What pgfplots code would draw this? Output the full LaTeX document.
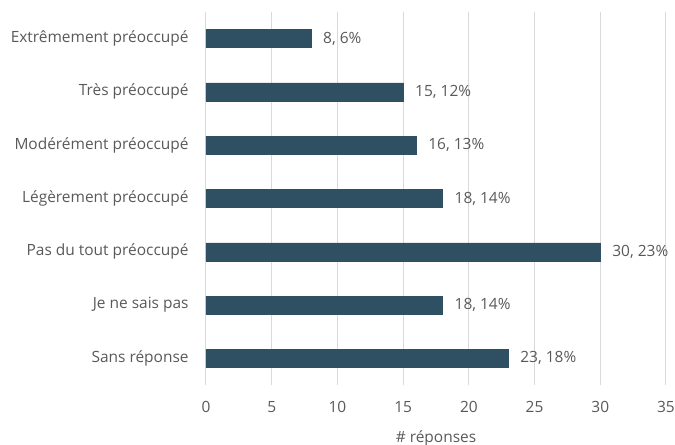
\documentclass[border=0pt]{standalone}
\usepackage{pgfplots}
\pgfplotsset{compat=1.18}
\usepackage{fontspec}
\setmainfont{Open Sans}
\definecolor{barc}{HTML}{2F5063}
\definecolor{gridc}{HTML}{D9D9D9}
\definecolor{txtc}{HTML}{595959}
\newcommand{\ff}{\fontsize{11.6}{14}\selectfont}
\begin{document}
\ff
\begin{tikzpicture}
\begin{axis}[
  at={(0,0)}, anchor=south west,
  scale only axis,
  width=345pt, height=279.75pt,
  xbar, bar width=13.5pt,
  xmin=0, xmax=35,
  ymin=-0.5, ymax=6.5,
  y dir=reverse,
  xtick={0,5,...,35},
  ytick={0,...,6},
  yticklabels={Extrêmement préoccupé,Très préoccupé,Modérément préoccupé,Légèrement préoccupé,Pas du tout préoccupé,Je ne sais pas,Sans réponse},
  xmajorgrids, major grid style={gridc, line width=0.75pt},
  axis line style={draw=none},
  major tick length=0pt,
  tick label style={txtc, font=\ff},
  /pgf/number format/assume math mode=true,
  xticklabel style={yshift=-8pt},
  yticklabel style={xshift=-9pt},
  xlabel={\# réponses},
  xlabel style={txtc, font=\ff, yshift=-6pt},
  nodes near coords,
  point meta=explicit symbolic,
  every node near coord/.append style={txtc, anchor=west, xshift=5pt, font=\ff},
  clip=false,
]
\addplot[fill=barc, draw=barc] coordinates {
  (8,0) [{8, 6\%}]
  (15,1) [{15, 12\%}]
  (16,2) [{16, 13\%}]
  (18,3) [{18, 14\%}]
  (30,4) [{30, 23\%}]
  (18,5) [{18, 14\%}]
  (23,6) [{23, 18\%}]
};
\end{axis}
\pgfresetboundingbox
\path[use as bounding box] (-154.5pt,-45pt) rectangle (351.75pt,288.75pt);
\end{tikzpicture}
\end{document}
